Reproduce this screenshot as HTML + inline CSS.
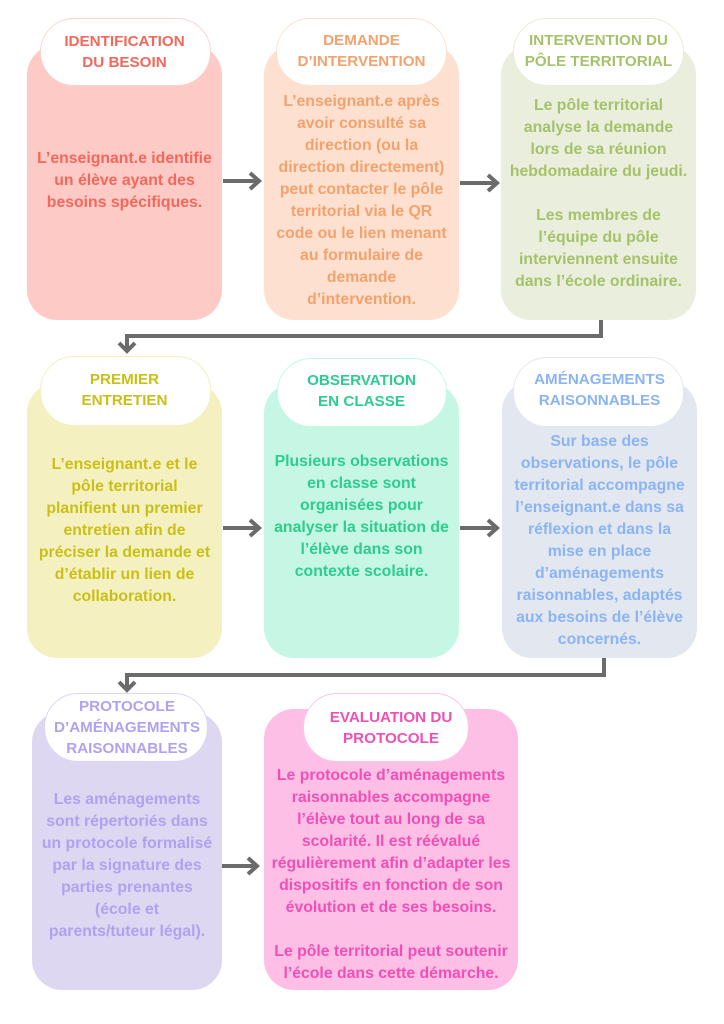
<!DOCTYPE html>
<html><head><meta charset="utf-8"><style>
body{margin:0;width:724px;height:1024px;background:#fff;position:relative;overflow:hidden;font-family:"Liberation Sans","DejaVu Sans",sans-serif;font-weight:bold;}
.b{position:absolute;border-radius:30px;}
.p{position:absolute;background:#fff;border-radius:34px;border:1.5px solid;box-sizing:border-box;}
.t{position:absolute;text-align:center;font-size:15.8px;line-height:22px;white-space:nowrap;}
.h{position:absolute;text-align:center;font-size:15.2px;line-height:21px;white-space:nowrap;}
</style></head><body>
<svg width="724" height="1024" style="position:absolute;left:0;top:0" >
<g stroke="#6b6b6b" stroke-width="4" fill="none" stroke-linejoin="miter">
<path d="M223 181H258M250 173l9 8-9 8"/>
<path d="M460 183H496M488 175l9 8-9 8"/>
<path d="M601 320V336H127V350M119 343l8 8 8-8"/>
<path d="M223 528H258M250 520l9 8-9 8"/>
<path d="M460 528H496M488 520l9 8-9 8"/>
<path d="M604 658V675H127V689M119 682l8 8 8-8"/>
<path d="M222 866H256M248 858l9 8-9 8"/>
</g></svg>

<div class="b" style="left:27px;top:45px;width:195px;height:275px;background:#fdcac6"></div>
<div class="p" style="left:40px;top:18px;width:171px;height:68px;border-color:#fcd3cf"></div>
<div class="h" style="left:27px;width:195px;top:31px;color:#f2685a">IDENTIFICATION<br>DU BESOIN</div>
<div class="t" style="left:27px;width:195px;top:148px;color:#f2685a">L’enseignant.e identifie<br>un élève ayant des<br>besoins spécifiques.</div>

<div class="b" style="left:264px;top:45px;width:195px;height:275px;background:#fde0cf"></div>
<div class="p" style="left:276px;top:18px;width:171px;height:68px;border-color:#fde0cf"></div>
<div class="h" style="left:264px;width:195px;top:30px;color:#f4a26d">DEMANDE<br>D’INTERVENTION</div>
<div class="t" style="left:264px;width:195px;top:91px;color:#f4a26d">L’enseignant.e après<br>avoir consulté sa<br>direction (ou la<br>direction directement)<br>peut contacter le pôle<br>territorial via le QR<br>code ou le lien menant<br>au formulaire de<br>demande<br>d’intervention.</div>

<div class="b" style="left:501px;top:45px;width:195px;height:275px;background:#e9efdc"></div>
<div class="p" style="left:513px;top:18px;width:171px;height:68px;border-color:#e6eed8"></div>
<div class="h" style="left:501px;width:195px;top:30px;color:#a5c26b">INTERVENTION DU<br>PÔLE TERRITORIAL</div>
<div class="t" style="left:501px;width:195px;top:95px;color:#a5c26b">Le pôle territorial<br>analyse la demande<br>lors de sa réunion<br>hebdomadaire du jeudi.<br>&nbsp;<br>Les membres de<br>l’équipe du pôle<br>interviennent ensuite<br>dans l’école ordinaire.</div>

<div class="b" style="left:27px;top:383px;width:195px;height:275px;background:#f5f0c0"></div>
<div class="p" style="left:40px;top:356px;width:171px;height:70px;border-color:#f3efc0"></div>
<div class="h" style="left:27px;width:195px;top:369px;color:#c9c017">PREMIER<br>ENTRETIEN</div>
<div class="t" style="left:27px;width:195px;top:454px;color:#c9c017">L’enseignant.e et le<br>pôle territorial<br>planifient un premier<br>entretien afin de<br>préciser la demande et<br>d’établir un lien de<br>collaboration.</div>

<div class="b" style="left:264px;top:383px;width:195px;height:275px;background:#c6f7e4"></div>
<div class="p" style="left:277px;top:358px;width:170px;height:69px;border-color:#c6f7e4"></div>
<div class="h" style="left:264px;width:195px;top:370px;color:#2dcc8f">OBSERVATION<br>EN CLASSE</div>
<div class="t" style="left:264px;width:195px;top:451px;color:#2dcc8f">Plusieurs observations<br>en classe sont<br>organisées pour<br>analyser la situation de<br>l’élève dans son<br>contexte scolaire.</div>

<div class="b" style="left:502px;top:381px;width:195px;height:277px;background:#e3e8f0"></div>
<div class="p" style="left:513px;top:357px;width:171px;height:70px;border-color:#e3e8f0"></div>
<div class="h" style="left:502px;width:195px;top:369px;color:#8ab4f3">AMÉNAGEMENTS<br>RAISONNABLES</div>
<div class="t" style="left:502px;width:195px;top:431px;color:#8ab4f3">Sur base des<br>observations, le pôle<br>territorial accompagne<br>l’enseignant.e dans sa<br>réflexion et dans la<br>mise en place<br>d’aménagements<br>raisonnables, adaptés<br>aux besoins de l’élève<br>concernés.</div>

<div class="b" style="left:32px;top:712px;width:190px;height:278px;background:#ded7f1"></div>
<div class="p" style="left:44px;top:693px;width:164px;height:69px;border-color:#ddd4f5"></div>
<div class="h" style="left:32px;width:190px;top:696px;color:#b1a1f0">PROTOCOLE<br>D’AMÉNAGEMENTS<br>RAISONNABLES</div>
<div class="t" style="left:32px;width:190px;top:789px;color:#b1a1f0">Les aménagements<br>sont répertoriés dans<br>un protocole formalisé<br>par la signature des<br>parties prenantes<br>(école et<br>parents/tuteur légal).</div>

<div class="b" style="left:264px;top:709px;width:254px;height:281px;background:#fdbfe6"></div>
<div class="p" style="left:303px;top:693px;width:166px;height:69px;border-color:#fcc4e8"></div>
<div class="h" style="left:264px;width:254px;top:707px;color:#f24fb4">EVALUATION DU<br>PROTOCOLE</div>
<div class="t" style="left:264px;width:254px;top:765px;color:#f24fb4">Le protocole d’aménagements<br>raisonnables accompagne<br>l’élève tout au long de sa<br>scolarité. Il est réévalué<br>régulièrement afin d’adapter les<br>dispositifs en fonction de son<br>évolution et de ses besoins.<br>&nbsp;<br>Le pôle territorial peut soutenir<br>l’école dans cette démarche.</div>
</body></html>
